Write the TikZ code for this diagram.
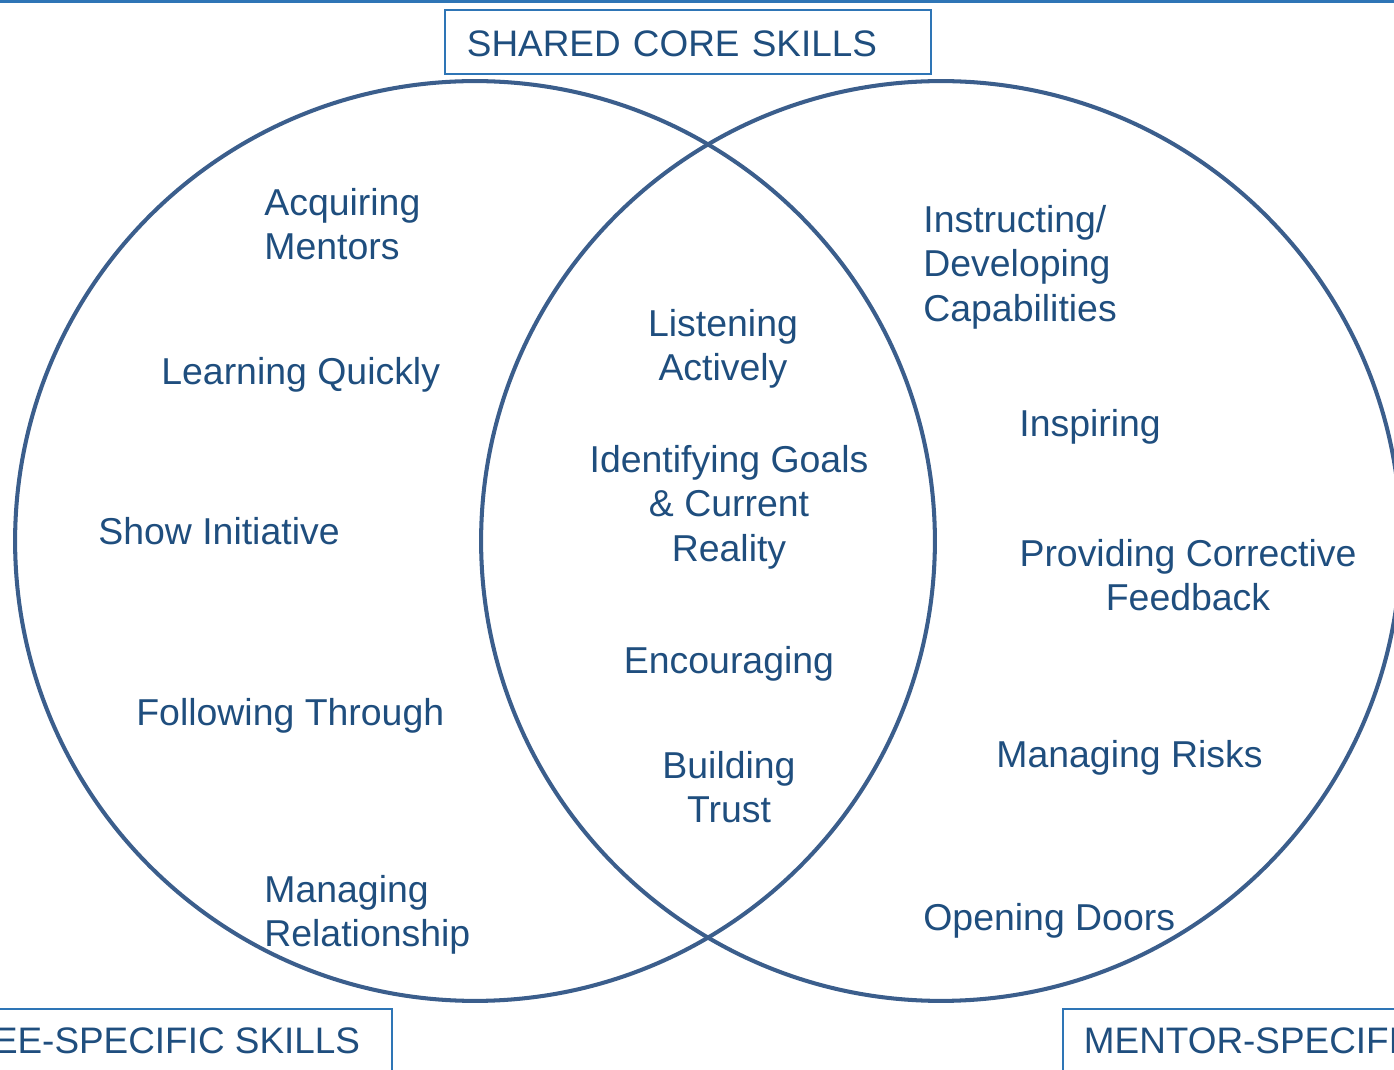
\documentclass[tikz,border=0pt]{standalone}
\usepackage{fontspec}
\setmainfont{Liberation Sans}
\definecolor{ringblue}{HTML}{3B5E8C}
\definecolor{textblue}{HTML}{1F4E7E}
\definecolor{frameblue}{HTML}{2E75B6}
\begin{document}
\begin{tikzpicture}[x=0.02cm, y=-0.02cm]
        % Style Definitions
        \tikzstyle{ring} = [circle, draw=ringblue, line width=2.3pt, minimum size=18.4cm, inner sep=0pt]
        \tikzstyle{skill} = [text=textblue, font=\fontsize{21.3}{25.3}\selectfont, inner sep=0pt, yshift=-0.06cm]
        \tikzstyle{leftskill} = [skill, anchor=west, align=left]
        \tikzstyle{midskill} = [skill, align=center]
        \tikzstyle{heading} = [draw=frameblue, line width=1.1pt, text=textblue, font=\fontsize{21}{25}\selectfont, inner ysep=0pt]

        \clip (0,0) rectangle (1394,1070);

        % Top rule
        \coordinate (ruleL) at (0,1.5);
        \coordinate (ruleR) at (1394,1.5);
        \draw[frameblue, line width=1.4pt] (ruleL) -- (ruleR);

        % Circles
        \node (mentee) [ring] at (475,541) {};
        \node (mentor) [ring] at (941,541) {};

        % Headings
        \node (shared) [heading, anchor=north west, inner xsep=0.44cm, text width=8.84cm, align=left, minimum height=1.28cm, text height=18pt, text depth=2pt] at (444,9) {SHARED CORE SKILLS};
        \node (menteehead) [heading, anchor=north east, inner xsep=0.64cm, minimum height=1.8cm, text height=9pt, text depth=9pt] at (393,1008) {MENTEE-SPECIFIC SKILLS};
        \node (mentorhead) [heading, anchor=north west, inner xsep=0.42cm, minimum height=1.8cm, text height=9pt, text depth=9pt] at (1062,1008) {MENTOR-SPECIFIC SKILLS};

        % Mentee side
        \node (acquiring) [leftskill] at (264,221) {Acquiring\\Mentors};
        \node (learning) [leftskill] at (161,372) {Learning Quickly};
        \node (initiative) [leftskill] at (98,528) {Show Initiative};
        \node (following) [leftskill] at (136,713) {Following Through};
        \node (relation) [leftskill] at (264,912) {Managing\\Relationship};

        % Shared core
        \node (listening) [midskill] at (723,346) {Listening\\Actively};
        \node (goals) [midskill] at (729,504) {Identifying Goals\\\& Current\\Reality};
        \node (encouraging) [midskill] at (729,661) {Encouraging};
        \node (trust) [midskill] at (729,784) {Building\\Trust};

        % Mentor side
        \node (instructing) [leftskill] at (923,264) {Instructing/\\Developing\\Capabilities};
        \node (inspiring) [leftskill] at (1019,424) {Inspiring};
        \node (feedback) [midskill] at (1188,572) {Providing Corrective\\Feedback};
        \node (risks) [leftskill] at (996,755) {Managing Risks};
        \node (doors) [leftskill] at (923,918) {Opening Doors};

    \end{tikzpicture}
\end{document}
